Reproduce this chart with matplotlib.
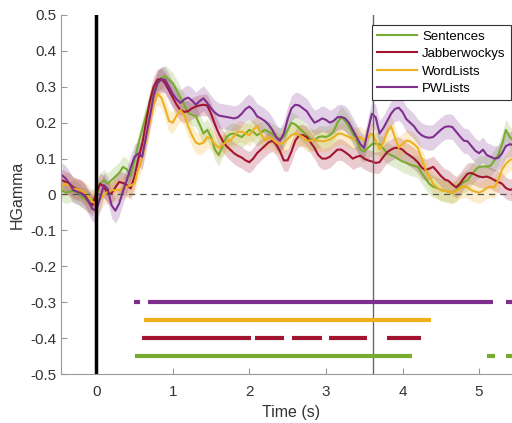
import numpy as np
import matplotlib
matplotlib.use("Agg")
import matplotlib.pyplot as plt

plt.rcParams["font.family"] = ["Liberation Sans", "DejaVu Sans"]

# time axis (s), 50 ms steps
time_s = np.round(np.arange(-0.45, 5.451, 0.05), 2)

sentences = [
    0.012, 0.005, 0.008, 0.010, 0.005, -0.005, -0.012, -0.020, -0.015, -0.005,
    0.030, 0.040, 0.030, 0.040, 0.050, 0.060, 0.077, 0.070, 0.050, 0.095,
    0.140, 0.180, 0.220, 0.255, 0.285, 0.310, 0.325, 0.330, 0.320, 0.310,
    0.290, 0.270, 0.250, 0.228, 0.222, 0.218, 0.195, 0.170, 0.180, 0.160,
    0.125, 0.110, 0.135, 0.160, 0.168, 0.170, 0.165, 0.160, 0.170, 0.180,
    0.175, 0.165, 0.172, 0.180, 0.175, 0.168, 0.160, 0.155, 0.160, 0.180,
    0.200, 0.195, 0.185, 0.175, 0.165, 0.155, 0.150, 0.160, 0.162, 0.160,
    0.165, 0.175, 0.200, 0.216, 0.205, 0.190, 0.170, 0.150, 0.125, 0.120,
    0.130, 0.140, 0.142, 0.140, 0.128, 0.115, 0.110, 0.105, 0.098, 0.092,
    0.088, 0.083, 0.080, 0.077, 0.060, 0.045, 0.030, 0.022, 0.018, 0.013,
    0.010, 0.007, 0.005, 0.012, 0.025, 0.035, 0.040, 0.055, 0.068, 0.077,
    0.078, 0.078, 0.080, 0.095, 0.110, 0.140, 0.180, 0.160, 0.150,
]
jabberwockys = [
    0.040, 0.035, 0.030, 0.020, 0.015, 0.012, 0.000, -0.020, -0.030, 0.003,
    0.030, 0.022, 0.003, 0.003, 0.020, 0.035, 0.032, 0.026, 0.017, 0.050,
    0.100, 0.140, 0.200, 0.260, 0.300, 0.320, 0.322, 0.310, 0.290, 0.270,
    0.250, 0.235, 0.230, 0.232, 0.240, 0.245, 0.248, 0.250, 0.248, 0.225,
    0.195, 0.170, 0.150, 0.135, 0.125, 0.115, 0.108, 0.103, 0.095, 0.090,
    0.100, 0.115, 0.125, 0.135, 0.145, 0.150, 0.140, 0.120, 0.095, 0.095,
    0.120, 0.150, 0.165, 0.165, 0.160, 0.145, 0.130, 0.110, 0.100, 0.100,
    0.105, 0.115, 0.125, 0.125, 0.118, 0.110, 0.100, 0.105, 0.108, 0.100,
    0.095, 0.092, 0.088, 0.090, 0.105, 0.118, 0.125, 0.130, 0.130, 0.125,
    0.115, 0.108, 0.100, 0.090, 0.075, 0.068, 0.072, 0.077, 0.065, 0.052,
    0.042, 0.038, 0.028, 0.020, 0.030, 0.045, 0.058, 0.060, 0.055, 0.050,
    0.048, 0.050, 0.046, 0.040, 0.035, 0.030, 0.018, 0.013, 0.015,
]
wordlists = [
    0.022, 0.030, 0.025, 0.015, 0.015, 0.012, 0.005, -0.005, -0.020, -0.025,
    -0.015, 0.000, 0.008, 0.012, 0.012, 0.012, 0.018, 0.022, 0.025, 0.030,
    0.070, 0.100, 0.150, 0.200, 0.250, 0.280, 0.270, 0.240, 0.205, 0.200,
    0.220, 0.235, 0.220, 0.190, 0.165, 0.145, 0.140, 0.145, 0.160, 0.155,
    0.140, 0.130, 0.138, 0.148, 0.150, 0.162, 0.175, 0.175, 0.170, 0.165,
    0.180, 0.190, 0.170, 0.150, 0.160, 0.155, 0.145, 0.140, 0.145, 0.155,
    0.165, 0.170, 0.165, 0.160, 0.150, 0.150, 0.152, 0.150, 0.148, 0.150,
    0.153, 0.160, 0.168, 0.170, 0.165, 0.160, 0.155, 0.158, 0.160, 0.150,
    0.160, 0.170, 0.150, 0.125, 0.145, 0.175, 0.190, 0.160, 0.130, 0.140,
    0.150, 0.148, 0.140, 0.130, 0.100, 0.070, 0.050, 0.030, 0.020, 0.012,
    0.010, 0.008, 0.005, 0.010, 0.018, 0.022, 0.020, 0.012, 0.008, 0.005,
    0.010, 0.018, 0.022, 0.020, 0.040, 0.070, 0.085, 0.096, 0.100,
]
pwlists = [
    0.054, 0.045, 0.030, 0.012, 0.008, 0.003, -0.005, -0.020, -0.040, -0.045,
    -0.010, 0.026, 0.015, -0.030, -0.045, -0.025, 0.010, 0.040, 0.075, 0.105,
    0.114, 0.105, 0.160, 0.216, 0.275, 0.310, 0.320, 0.320, 0.300, 0.280,
    0.265, 0.255, 0.265, 0.270, 0.262, 0.250, 0.260, 0.268, 0.255, 0.240,
    0.228, 0.220, 0.218, 0.216, 0.214, 0.212, 0.215, 0.225, 0.238, 0.245,
    0.235, 0.218, 0.212, 0.205, 0.195, 0.180, 0.160, 0.150, 0.170, 0.210,
    0.240, 0.250, 0.248, 0.240, 0.232, 0.215, 0.200, 0.205, 0.212, 0.208,
    0.200, 0.205, 0.215, 0.216, 0.212, 0.200, 0.180, 0.160, 0.140, 0.130,
    0.180, 0.225, 0.215, 0.170, 0.185, 0.205, 0.225, 0.238, 0.242, 0.230,
    0.210, 0.200, 0.190, 0.175, 0.165, 0.160, 0.158, 0.160, 0.170, 0.180,
    0.188, 0.190, 0.188, 0.175, 0.162, 0.150, 0.148, 0.135, 0.122, 0.115,
    0.125, 0.110, 0.105, 0.100, 0.102, 0.115, 0.135, 0.140, 0.138,
]

# half-width of the shaded error band per condition
sem = {"Sentences": 0.03, "Jabberwockys": 0.03, "WordLists": 0.03, "PWLists": 0.035}

# significant time windows (start, end) in seconds
sig_sentences = [(0.51, 4.12), (5.11, 5.21), (5.35, 5.6)]
sig_jabberwockys = [(0.60, 2.02), (2.08, 2.45), (2.56, 2.95), (3.04, 3.54), (3.80, 4.24)]
sig_wordlists = [(0.63, 4.37)]
sig_pwlists = [(0.49, 0.57), (0.67, 5.18), (5.35, 5.6)]
sig_levels = [-0.45, -0.4, -0.35, -0.3]

marker_time = 3.61

colors = {
    "Sentences": "#77AC30",
    "Jabberwockys": "#A2142F",
    "WordLists": "#EDB120",
    "PWLists": "#7E2F8E",
}
series = {
    "Sentences": sentences,
    "Jabberwockys": jabberwockys,
    "WordLists": wordlists,
    "PWLists": pwlists,
}

fig = plt.figure(figsize=(5.12, 4.23), dpi=100)
ax = fig.add_axes([61 / 512, 49 / 423, 1 - 61 / 512, 359 / 423])

# shaded bands first, then lines
for name, vals in series.items():
    v = np.array(vals)
    ax.fill_between(time_s, v - sem[name], v + sem[name], color=colors[name],
                    alpha=0.22, linewidth=0)
handles = []
for name, vals in series.items():
    h, = ax.plot(time_s, vals, color=colors[name], linewidth=1.5, label=name)
    handles.append(h)

ax.axhline(0, color="#555555", linestyle=(0, (5, 4)), linewidth=0.9)
ax.axvline(0, color="black", linewidth=2.5)
ax.axvline(marker_time, color="#666666", linewidth=1.0)

sig_sets = [("Sentences", sig_sentences), ("Jabberwockys", sig_jabberwockys),
            ("WordLists", sig_wordlists), ("PWLists", sig_pwlists)]
for (name, windows), level in zip(sig_sets, sig_levels):
    for start, end in windows:
        ax.plot([start, end], [level, level], color=colors[name], linewidth=3,
                solid_capstyle="butt")

ax.set_xlim(-0.46, 5.43)
ax.set_ylim(-0.5, 0.5)
ax.set_xticks([0, 1, 2, 3, 4, 5])
ax.set_yticks(np.round(np.arange(-0.5, 0.51, 0.1), 1))
ax.set_yticklabels(["-0.5", "-0.4", "-0.3", "-0.2", "-0.1", "0",
                    "0.1", "0.2", "0.3", "0.4", "0.5"])
ax.tick_params(direction="in", length=4, colors="#999999", labelcolor="#333333",
               labelsize=11)
ax.tick_params(axis="x", pad=8)
for side in ["top", "right"]:
    ax.spines[side].set_visible(False)
for side in ["left", "bottom"]:
    ax.spines[side].set_color("#999999")

ax.set_xlabel("Time (s)", fontsize=11.5, color="#333333")
ax.xaxis.set_label_coords(0.51, -0.085)
ax.set_ylabel("HGamma", fontsize=11.5, color="#333333")
ax.yaxis.set_label_coords(-0.08, 0.5)

leg = fig.legend(handles=handles, loc="upper left",
                 bbox_to_anchor=(372 / 512, 1 - 25 / 423), fontsize=9.5,
                 fancybox=False, framealpha=1, edgecolor="#333333",
                 handlelength=3.0, borderpad=0.4, labelspacing=0.4,
                 handletextpad=0.4, borderaxespad=0)
leg.get_frame().set_linewidth(0.8)

fig.savefig("out.png", dpi=100)
